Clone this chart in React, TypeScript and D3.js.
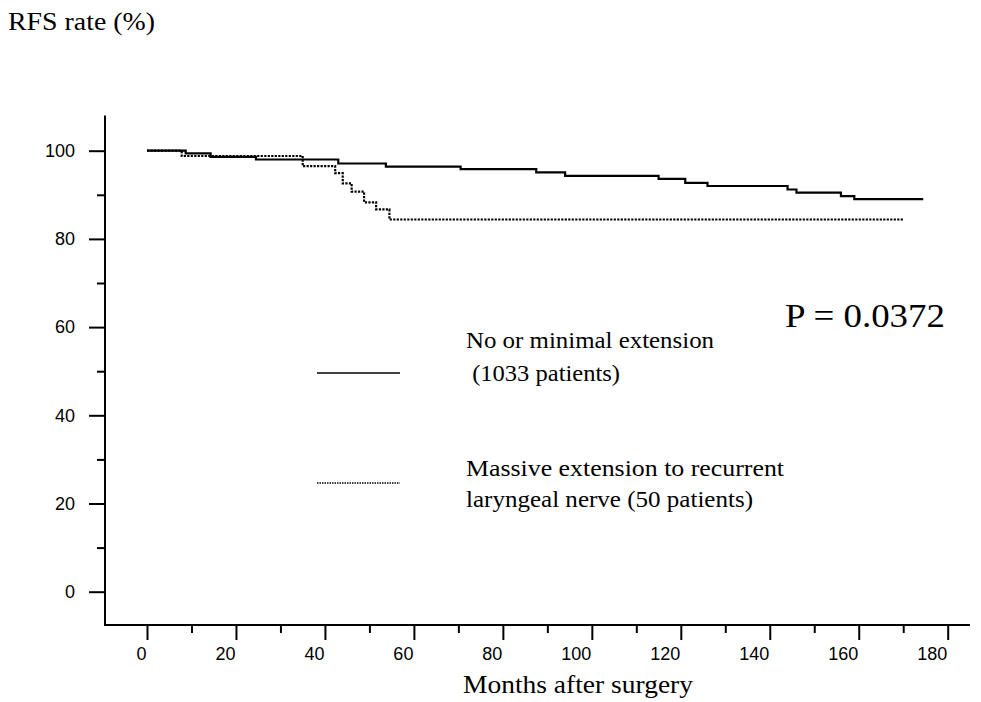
import React, { useEffect, useRef } from 'react'
import * as d3 from 'd3'

// Kaplan-Meier steps (months, RFS %)
const minimalMonths = [0, 8.7, 14.3, 24.5, 43, 53.7, 70.5, 87.5, 94, 115, 121, 126, 144, 146, 156, 159, 174.5]
const minimalRates = [100, 99.4, 98.6, 98.0, 97.1, 96.4, 95.8, 95.1, 94.3, 93.6, 92.7, 92.0, 91.2, 90.5, 89.7, 89.0, 89.0]

const massiveMonths = [0, 7.8, 35, 42.3, 44, 46, 48.8, 51.5, 54.5, 170]
const massiveRates = [100, 98.8, 96.5, 94.9, 92.6, 90.7, 88.3, 86.7, 84.4, 84.4]

const xMajorTicks = [0, 20, 40, 60, 80, 100, 120, 140, 160, 180]
const xMinorTicks = [10, 30, 50, 70, 90, 110, 130, 150, 170]
const yMajorTicks = [0, 20, 40, 60, 80, 100]
const yMinorTicks = [10, 30, 50, 70, 90]

const legendLabels = [
  ['No or minimal extension', ' (1033 patients)'],
  ['Massive extension to recurrent', 'laryngeal nerve (50 patients)'],
]
const pValueLabel = 'P = 0.0372'

const serif = '"Liberation Serif", "Times New Roman", Times, serif'
const sans = '"Liberation Sans", Arial, Helvetica, sans-serif'

export default function App() {
  const xAxisRef = useRef<SVGGElement>(null)
  const yAxisRef = useRef<SVGGElement>(null)

  const x = d3.scaleLinear().domain([0, 180]).range([147, 947.7])
  const y = d3.scaleLinear().domain([0, 100]).range([591.7, 150.7])
  const xAxisY = 625
  const yAxisX = 105

  const line = d3
    .line<[number, number]>()
    .x(d => x(d[0]))
    .y(d => y(d[1]))
    .curve(d3.curveStepAfter)

  const minimalPts = minimalMonths.map((m, i) => [m, minimalRates[i]] as [number, number])
  const massivePts = massiveMonths.map((m, i) => [m, massiveRates[i]] as [number, number])

  useEffect(() => {
    // x axis: ticks hang below the line
    const gx = d3.select(xAxisRef.current)
    gx.selectAll('*').remove()
    gx.append('g')
      .call(d3.axisBottom(x).tickValues(xMajorTicks).tickSize(15).tickFormat(d3.format('d')))
      .call(g => g.select('.domain').remove())
      .call(g => g.selectAll('line').attr('stroke-width', 2))
      .call(g =>
        g.selectAll('text')
          .attr('font-family', sans)
          .attr('font-size', 18)
          .attr('text-anchor', 'end')
          .attr('x', -1)
          .attr('y', 22)
      )
    gx.append('g')
      .call(d3.axisBottom(x).tickValues(xMinorTicks).tickSize(8).tickFormat(() => ''))
      .call(g => g.select('.domain').remove())
      .call(g => g.selectAll('line').attr('stroke-width', 2))

    // y axis
    const gy = d3.select(yAxisRef.current)
    gy.selectAll('*').remove()
    gy.append('g')
      .call(d3.axisLeft(y).tickValues(yMajorTicks).tickSize(16).tickPadding(14).tickFormat(d3.format('d')))
      .call(g => g.select('.domain').remove())
      .call(g => g.selectAll('line').attr('stroke-width', 2))
      .call(g => g.selectAll('text').attr('font-family', sans).attr('font-size', 18))
    gy.append('g')
      .call(d3.axisLeft(y).tickValues(yMinorTicks).tickSize(8).tickFormat(() => ''))
      .call(g => g.select('.domain').remove())
      .call(g => g.selectAll('line').attr('stroke-width', 2))
  }, [])

  return (
    <svg
      width={981}
      height={702}
      style={{ position: 'absolute', left: 0, top: 0, background: '#fff' }}
    >
      <text x={8} y={30} fontFamily={serif} fontSize={26} textLength={147} lengthAdjust="spacingAndGlyphs">
        RFS rate (%)
      </text>

      {/* axis lines */}
      <line x1={yAxisX} x2={yAxisX} y1={y(108)} y2={xAxisY + 1} stroke="#000" strokeWidth={2} />
      <line x1={yAxisX} x2={x(185)} y1={xAxisY} y2={xAxisY} stroke="#000" strokeWidth={2} />
      <g ref={xAxisRef} transform={`translate(0,${xAxisY})`} />
      <g ref={yAxisRef} transform={`translate(${yAxisX},0)`} />

      {/* curves */}
      <path d={line(minimalPts) || ''} fill="none" stroke="#000" strokeWidth={2.2} />
      <path d={line(massivePts) || ''} fill="none" stroke="#000" strokeWidth={2.2} strokeDasharray="2.2 1.3" />

      {/* legend */}
      <line x1={317} x2={400} y1={373} y2={373} stroke="#000" strokeWidth={1.6} />
      <line x1={317} x2={400} y1={483} y2={483} stroke="#000" strokeWidth={1.6} strokeDasharray="1.5 1" />
      <text fontFamily={serif} fontSize={24} fill="#000">
        <tspan x={466} y={348} textLength={248} lengthAdjust="spacingAndGlyphs">{legendLabels[0][0]}</tspan>
        <tspan x={466} y={381} textLength={154} lengthAdjust="spacingAndGlyphs">{legendLabels[0][1]}</tspan>
        <tspan x={466} y={476} textLength={318} lengthAdjust="spacingAndGlyphs">{legendLabels[1][0]}</tspan>
        <tspan x={466} y={507} textLength={287} lengthAdjust="spacingAndGlyphs">{legendLabels[1][1]}</tspan>
      </text>

      <text x={785} y={327} fontFamily={serif} fontSize={34} textLength={160} lengthAdjust="spacingAndGlyphs">
        {pValueLabel}
      </text>

      <text x={578} y={693} textAnchor="middle" fontFamily={serif} fontSize={26} textLength={230} lengthAdjust="spacingAndGlyphs">
        Months after surgery
      </text>
    </svg>
  )
}
